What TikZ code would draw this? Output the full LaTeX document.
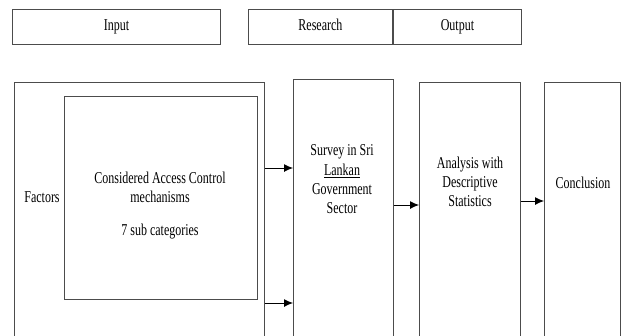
\documentclass[tikz,border=0pt]{standalone}
\usepackage{fontspec}
\setmainfont{Liberation Serif}
\usepackage{graphicx}
\usetikzlibrary{arrows.meta}
% tall, narrow lettering: 12pt type stretched vertically
\newcommand\tallstack[1]{\scalebox{1}[1.38]{\fontsize{12}{14}\selectfont\begin{tabular}{@{}c@{}}#1\end{tabular}}}
\tikzset{
  frame/.style={draw=black!70, line width=0.9pt, anchor=north west, inner sep=0pt},
  lbl/.style={inner sep=0pt, font=\fontsize{12}{14}\selectfont},
  arr/.style={draw=black, line width=0.9pt, -{Latex[length=9pt,width=8pt]}},
}
\begin{document}
\begin{tikzpicture}[x=1pt,y=-1pt]
\clip (0,0) rectangle (623,335);
\fill[white] (0,0) rectangle (623,335);
% header bar
\node[frame, minimum width=208pt, minimum height=35pt] (input) at (12,9) {};
\node[frame, minimum width=144pt, minimum height=35pt] (research) at (248,9) {};
\node[frame, minimum width=128pt, minimum height=35pt] (output) at (393,9) {};
\node[lbl] (tinput) at (input.center) {\tallstack{Input}};
\node[lbl] (tresearch) at (research.center) {\tallstack{Research}};
\node[lbl] (toutput) at (output.center) {\tallstack{Output}};
% process columns
\node[frame, minimum width=250pt, minimum height=270pt] (outer) at (14,82) {};
\node[frame, minimum width=193pt, minimum height=203pt] (inner) at (64,96) {};
\node[frame, minimum width=100pt, minimum height=270pt] (survey) at (293,79) {};
\node[frame, minimum width=101pt, minimum height=270pt] (analysis) at (419,82) {};
\node[frame, minimum width=76pt, minimum height=270pt] (concl) at (544,82) {};
% texts
\node[lbl] (factors) at (42,199) {\tallstack{Factors}};
\node[lbl] (tacm) at (160,189) {\tallstack{Considered Access Control\\ mechanisms}};
\node[lbl] (tsub) at (160,232) {\tallstack{7 sub categories}};
\node[lbl] (tsurvey) at (342,181) {\tallstack{Survey in Sri\\ \underline{Lankan}\\ Government\\ Sector}};
\node[lbl] (tanalysis) at (470,183.5) {\tallstack{Analysis with\\ Descriptive\\ Statistics}};
\node[lbl] (tconcl) at (583,185) {\tallstack{Conclusion}};
% connectors
\draw[arr] (outer.east |- 0,168) -- (survey.west |- 0,168);
\draw[arr] (outer.east |- 0,303) -- (survey.west |- 0,303);
\draw[arr] (survey.east |- 0,205) -- (analysis.west |- 0,205);
\draw[arr] (analysis.east |- 0,201) -- (concl.west |- 0,201);
\end{tikzpicture}
\end{document}
